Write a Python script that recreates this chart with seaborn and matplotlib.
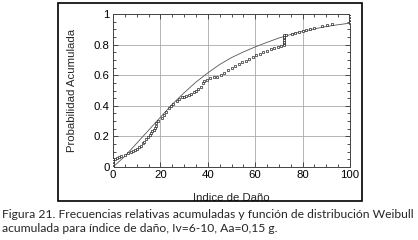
import matplotlib
matplotlib.use("Agg")
import matplotlib.pyplot as plt
import matplotlib.patches as mpatches
from matplotlib.ticker import MultipleLocator, FuncFormatter
import seaborn as sns
import pandas as pd

damage_idx = [0, 0, 0, 0, 0, 0,
              0.8, 1.5, 2.5, 3.5, 5, 6.3, 7.5, 8.5, 9.3, 10, 10.8, 11.8, 12.5, 13.2,
              14, 14.8, 15.5, 16, 16.6, 17.2, 17.7, 18, 18.2, 19,
              20.5, 21.5, 22.5, 23.5, 24.5, 25.5, 27, 28, 29, 30, 31, 32, 33, 34, 35,
              36, 37, 38, 38.5, 39.5, 41, 42.5, 44, 45.5, 47, 48.5, 50, 51.5, 53,
              54.5, 56, 57.5, 59, 60.5, 62, 63.5, 65, 66.5, 68, 69.5, 71,
              72, 72, 72, 72, 72, 72, 72,
              73, 75.5, 77, 78.5, 80, 81.5, 83, 85, 88, 90.5, 92.5,
              100, 100, 100, 100, 100, 100, 100]
cum_freq = [0.0, 0.01, 0.02, 0.03, 0.04, 0.05,
            0.055, 0.06, 0.065, 0.07, 0.08, 0.09, 0.10, 0.105, 0.11, 0.12, 0.13, 0.14, 0.155, 0.165,
            0.18, 0.195, 0.21, 0.22, 0.235, 0.245, 0.255, 0.27, 0.285, 0.30,
            0.32, 0.34, 0.36, 0.385, 0.40, 0.41, 0.43, 0.445, 0.455, 0.46, 0.465, 0.47, 0.48, 0.49, 0.50,
            0.51, 0.525, 0.55, 0.56, 0.57, 0.58, 0.585, 0.59, 0.60, 0.615, 0.635, 0.65, 0.66, 0.675,
            0.685, 0.695, 0.705, 0.72, 0.73, 0.74, 0.75, 0.76, 0.77, 0.775, 0.785, 0.79,
            0.80, 0.81, 0.82, 0.83, 0.84, 0.85, 0.86,
            0.865, 0.87, 0.875, 0.88, 0.89, 0.895, 0.90, 0.91, 0.92, 0.93, 0.935,
            0.94, 0.95, 0.96, 0.97, 0.98, 0.99, 1.0]

# Fitted Weibull cumulative distribution
weib_x = [0, 5, 10, 15, 20, 25, 30, 35, 40, 45, 50, 55, 60, 65, 70, 75, 80, 85, 90, 95, 100]
weib_F = [0.0, 0.07, 0.155, 0.24, 0.325, 0.41, 0.485, 0.555, 0.615, 0.67, 0.715, 0.752,
          0.785, 0.815, 0.843, 0.866, 0.886, 0.903, 0.918, 0.93, 0.94]

x_ticks = [0, 20, 40, 60, 80, 100]
y_ticks = [0, 0.2, 0.4, 0.6, 0.8, 1.0]

xlabel = "Indice de Daño"
ylabel = "Probabilidad Acumulada"
caption = ("Figura 21. Frecuencias relativas acumuladas y función de distribución Weibull\n"
           "acumulada para índice de daño, Iv=6-10, Aa=0,15 g.")

sns.set_style("ticks")
plt.rcParams["font.family"] = ["Liberation Sans", "DejaVu Sans"]

fig = plt.figure(figsize=(4.18, 2.40), dpi=100)
ax = fig.add_axes([113 / 418, 1 - 167 / 240, 237 / 418, 153 / 240])

emp = pd.DataFrame({"x": damage_idx, "y": cum_freq})
fit = pd.DataFrame({"x": weib_x, "y": weib_F})

sns.lineplot(data=fit, x="x", y="y", ax=ax, color="#555555", lw=0.6, zorder=3)
sns.scatterplot(data=emp, x="x", y="y", ax=ax, marker="s", s=4,
                facecolor="white", edgecolor="#111111", linewidth=0.45, zorder=4)

ax.set_xlim(0, 100)
ax.set_ylim(0, 1)
ax.set_xticks(x_ticks)
ax.set_yticks(y_ticks)
ax.xaxis.set_minor_locator(MultipleLocator(5))
ax.yaxis.set_minor_locator(MultipleLocator(0.05))
ax.yaxis.set_major_formatter(FuncFormatter(lambda v, p: f"{v:g}"))
ax.grid(True, which="major", color="#aaaaaa", lw=0.6)
ax.set_axisbelow(True)
ax.tick_params(which="both", direction="in", top=True, right=True, labelsize=8.2,
               width=0.6, colors="#333333", labelcolor="black")
ax.tick_params(which="major", length=3.5, pad=2.5)
ax.tick_params(which="minor", length=2)
for s in ax.spines.values():
    s.set_linewidth(0.7)
    s.set_color("#444444")

ax.set_xlabel(xlabel, fontsize=8.2, labelpad=9)
ax.set_ylabel(ylabel, fontsize=8.2, labelpad=12)

fig.patches.append(mpatches.Rectangle((58 / 418, 1 - 201 / 240), 304 / 418, 198 / 240,
                                      transform=fig.transFigure, fill=False,
                                      edgecolor="black", lw=1.2))

fig.text(0.005, 1 - 234 / 240, caption, fontsize=8.7, family=["Lato", "DejaVu Sans"],
         ha="left", va="bottom", linespacing=1.3)

fig.savefig("out.png", dpi=100)
